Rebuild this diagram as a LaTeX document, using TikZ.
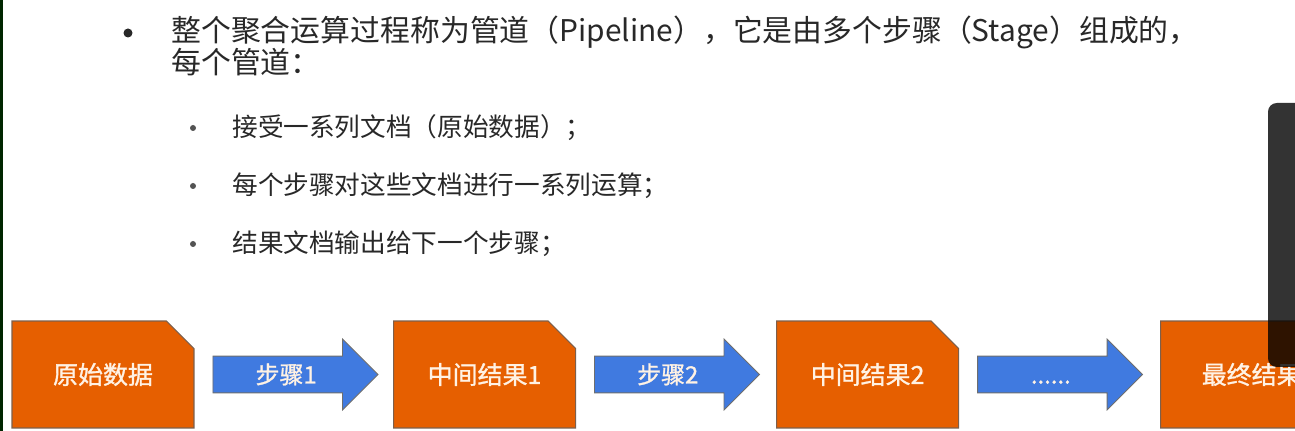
\documentclass[tikz,border=0pt]{standalone}
\usepackage{fontspec}
\setmainfont{Noto Sans CJK SC}
\newfontfamily\labelfont{Noto Sans CJK SC}[FakeBold=1.2]
\usetikzlibrary{positioning,shapes.misc,shapes.arrows}

\definecolor{boxorange}{RGB}{230,95,0}
\definecolor{boxedge}{RGB}{125,95,75}
\definecolor{stepblue}{RGB}{64,122,224}
\definecolor{stepedge}{RGB}{110,110,110}
\definecolor{textgray}{RGB}{40,40,40}
\definecolor{labelwhite}{RGB}{255,242,228}

\tikzset{
  databox/.style={chamfered rectangle, chamfered rectangle corners=north east,
    chamfered rectangle xsep=0.32cm, chamfered rectangle ysep=0.32cm,
    minimum width=3.64cm, minimum height=2.14cm, inner sep=0pt,
    fill=boxorange, draw=boxedge, line width=0.6pt, text=labelwhite,
    font=\labelfont\fontsize{14.2}{17}\selectfont},
  steparrow/.style={single arrow, single arrow head extend=0.34cm,
    minimum height=3.3cm, inner xsep=0pt, inner ysep=0pt,
    text height=0.54cm, text depth=0.18cm,
    fill=stepblue, draw=stepedge, line width=0.5pt, text=labelwhite,
    font=\labelfont\fontsize{13.6}{16}\selectfont},
  heading/.style={anchor=west, inner sep=0pt, text=textgray,
    font=\fontsize{17}{20}\selectfont},
  subitem/.style={anchor=west, inner sep=0pt, text=textgray,
    font=\fontsize{14.6}{18}\selectfont}
}

\begin{document}
\begin{tikzpicture}[x=0.02cm, y=-0.02cm]
    \useasboundingbox (0,0) rectangle (1295,431);
    \clip (0,0) rectangle (1295,431);
    \fill[white] (0,0) rectangle (1295,431);
    \fill[black!85!green] (0,0) rectangle (3,431);

    % Aufzaehlung
    \fill[textgray] (128,33) circle (4.5);
    \node[heading] (intro1) at (171,32.5) {整个聚合运算过程称为管道（Pipeline），它是由多个步骤（Stage）组成的，};
    \node[heading] (intro2) at (171,62.5) {每个管道：};
    \foreach \txt [count=\i] in {接受一系列文档（原始数据）；,
        每个步骤对这些文档进行一系列运算；, 结果文档输出给下一个步骤；} {
        \fill[textgray!80] (193,{70+58*\i}) circle (3);
        \node[subitem] (item\i) at (232,{70+58*\i}) {\txt};
    }

    % Pipeline
    \node[databox] (raw) at (103,374.5) {原始数据};
    \node[steparrow, right=0.36cm of raw] (stage1) {步骤1};
    \node[databox, right=0.29cm of stage1] (mid1) {中间结果1};
    \node[steparrow, right=0.36cm of mid1] (stage2) {步骤2};
    \node[databox, right=0.32cm of stage2] (mid2) {中间结果2};
    \node[steparrow, right=0.36cm of mid2] (stage3) {......};
    \node[databox, right=0.34cm of stage3] (final) {最终结果};

    % Player-Leiste
    \fill[black, opacity=0.8, rounded corners=5] (1268,103) rectangle (1310,367);
\end{tikzpicture}
\end{document}
